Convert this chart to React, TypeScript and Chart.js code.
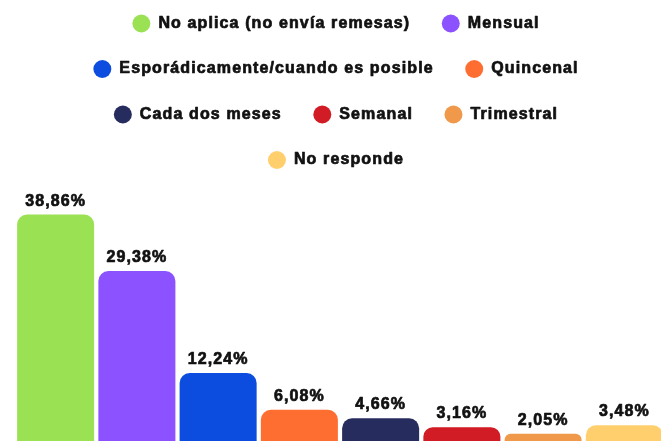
import React, { useEffect, useRef } from "react";
import { Chart, registerables } from "chart.js";

Chart.register(...registerables);

const categories = [
  "No aplica (no envía remesas)",
  "Mensual",
  "Esporádicamente/cuando es posible",
  "Quincenal",
  "Cada dos meses",
  "Semanal",
  "Trimestral",
  "No responde",
];
const values = [38.86, 29.38, 12.24, 6.08, 4.66, 3.16, 2.05, 3.48];
const colors = [
  "#9BE154",
  "#8C52FF",
  "#0C4DE0",
  "#FF6E31",
  "#272C5E",
  "#D11C25",
  "#F0994A",
  "#FFCF6E",
];

const FONT = '"Liberation Sans", Arial, Helvetica, sans-serif';
const TEXT_COLOR = "#111111";
const SPACING = "1.12px";

const spacingPlugin = {
  id: "letterSpacing",
  beforeLayout(chart: any) {
    (chart.ctx as any).letterSpacing = SPACING;
  },
  beforeDraw(chart: any) {
    (chart.ctx as any).letterSpacing = SPACING;
  },
};

const valueLabels = {
  id: "valueLabels",
  afterDatasetsDraw(chart: any) {
    const ctx = chart.ctx;
    const meta = chart.getDatasetMeta(0);
    ctx.save();
    (ctx as any).letterSpacing = SPACING;
    ctx.font = `bold 16px ${FONT}`;
    ctx.fillStyle = TEXT_COLOR;
    ctx.textAlign = "center";
    ctx.textBaseline = "alphabetic";
    meta.data.forEach((el: any, i: number) => {
      const v = chart.data.datasets[0].data[i] as number;
      const txt = v.toFixed(2).replace(".", ",") + "%";
      ctx.fillText(txt, el.x, el.y - 9);
    });
    ctx.restore();
  },
};

function patchText(ctx: any) {
  const origFill = ctx.fillText.bind(ctx);
  const origMeasure = ctx.measureText.bind(ctx);
  ctx.fillText = function (text: string, x: number, y: number, maxWidth?: number) {
    if (maxWidth === undefined) origFill(text, x, y);
    else origFill(text, x, y, maxWidth);
    ctx.save();
    ctx.lineWidth = 0.7;
    ctx.lineJoin = "round";
    ctx.strokeStyle = ctx.fillStyle;
    if (maxWidth === undefined) ctx.strokeText(text, x, y);
    else ctx.strokeText(text, x, y, maxWidth);
    ctx.restore();
  };
  // legend items: a little extra room after each label
  ctx.measureText = function (text: string) {
    const m = origMeasure(text);
    return {
      width: m.width + 2,
      actualBoundingBoxAscent: m.actualBoundingBoxAscent,
      actualBoundingBoxDescent: m.actualBoundingBoxDescent,
      actualBoundingBoxLeft: m.actualBoundingBoxLeft,
      actualBoundingBoxRight: m.actualBoundingBoxRight,
    };
  };
}

export default function App() {
  const ref = useRef<HTMLCanvasElement | null>(null);

  useEffect(() => {
    if (!ref.current) return;
    Chart.defaults.font.family = FONT;
    const ctx2d = ref.current.getContext("2d");
    if (ctx2d) patchText(ctx2d);
    const chart = new Chart(ref.current, {
      type: "bar",
      data: {
        labels: categories,
        datasets: [
          {
            data: values,
            backgroundColor: colors,
            borderWidth: 0,
            borderRadius: { topLeft: 10, topRight: 10, bottomLeft: 0, bottomRight: 0 },
            borderSkipped: "bottom",
            barPercentage: 0.948,
            categoryPercentage: 1,
          },
        ],
      },
      options: {
        responsive: false,
        animation: false,
        layout: { padding: 0 },
        plugins: {
          tooltip: { enabled: false },
          legend: {
            display: true,
            position: "top",
            labels: {
              usePointStyle: true,
              pointStyleWidth: 18,
              boxHeight: 12.73,
              padding: 29.5,
              color: TEXT_COLOR,
              font: { size: 16, weight: "bold", family: FONT },
              generateLabels: (c: any) =>
                c.data.labels.map((l: string, i: number) => ({
                  text: l,
                  fillStyle: colors[i],
                  strokeStyle: colors[i],
                  lineWidth: 0,
                  pointStyle: "circle",
                  hidden: false,
                  index: i,
                  fontColor: TEXT_COLOR,
                })),
            },
          },
        },
        scales: {
          x: { display: false },
          y: {
            display: true,
            min: 0,
            max: 45,
            ticks: { display: false },
            grid: { display: false, drawTicks: true, tickLength: 6 },
            border: { display: false },
          },
        },
      },
      plugins: [spacingPlugin, valueLabels],
    });
    return () => chart.destroy();
  }, []);

  return (
    <div
      style={{
        position: "fixed",
        left: 0,
        top: 0,
        width: "100vw",
        height: "100vh",
        overflow: "hidden",
        background: "#ffffff",
      }}
    >
      <canvas
        ref={ref}
        width={656}
        height={460}
        style={{ position: "absolute", left: 9, top: -14, width: 656, height: 460 }}
      />
    </div>
  );
}
